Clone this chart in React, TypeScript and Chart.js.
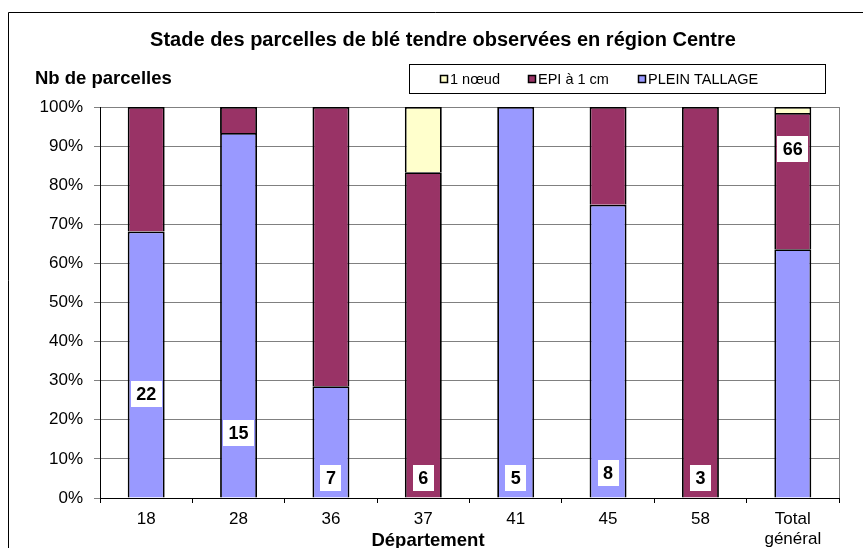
import React, { useEffect, useRef } from "react";
import { Chart, registerables } from "chart.js";

Chart.register(...registerables);

const departments: (string | string[])[] = ["18", "28", "36", "37", "41", "45", "58", ["Total", "général"]];
const pleinTallage = [15, 14, 2, 0, 5, 6, 0, 42];
const epi1cm = [7, 1, 5, 5, 0, 2, 3, 23];
const unNoeud = [0, 0, 0, 1, 0, 0, 0, 1];
const labelAt = [26.5, 16.6, 5, 5, 5, 6.5, 5, 89.3];
const yTicks = [0, 10, 20, 30, 40, 50, 60, 70, 80, 90, 100];

const FONT = '"Liberation Sans", Arial, sans-serif';
const C_PLEIN = "#9999FF";
const C_EPI = "#993366";
const C_NOEUD = "#FFFFCC";

const totals = departments.map((_, i) => pleinTallage[i] + epi1cm[i] + unNoeud[i]);
const share = (arr: number[]) => arr.map((v, i) => (v === 0 ? null : (v / totals[i]) * 100));

const decorPlugin = {
  id: "decor",
  beforeDraw(chart: any) {
    const ctx = chart.ctx;
    ctx.save();
    ctx.fillStyle = "#fff";
    ctx.fillRect(0, 0, chart.width, chart.height);
    ctx.strokeStyle = "#000";
    ctx.lineWidth = 1;
    ctx.beginPath();
    ctx.moveTo(8.5, chart.height);
    ctx.lineTo(8.5, 12.5);
    ctx.lineTo(chart.width, 12.5);
    ctx.stroke();
    ctx.restore();
  },
  afterDraw(chart: any) {
    const ctx = chart.ctx;
    const ca = chart.chartArea;
    ctx.save();
    // right plot border
    ctx.strokeStyle = "#808080";
    ctx.lineWidth = 1;
    ctx.beginPath();
    ctx.moveTo(Math.round(ca.right) + 0.5, ca.top);
    ctx.lineTo(Math.round(ca.right) + 0.5, ca.bottom);
    ctx.stroke();

    ctx.fillStyle = "#000";
    ctx.textBaseline = "middle";
    ctx.textAlign = "center";
    ctx.font = `bold 20px ${FONT}`;
    ctx.fillText("Stade des parcelles de blé tendre observées en région Centre", 443, 40);
    ctx.textAlign = "left";
    ctx.font = `bold 18.5px ${FONT}`;
    ctx.fillText("Nb de parcelles", 35, 79);
    ctx.textAlign = "center";
    ctx.fillText("Département", 428, 541);

    // legend
    ctx.strokeStyle = "#000";
    ctx.strokeRect(409.5, 64.5, 416, 29);
    const items = [
      { t: "1 nœud", c: C_NOEUD, x: 440 },
      { t: "EPI à 1 cm", c: C_EPI, x: 528 },
      { t: "PLEIN TALLAGE", c: C_PLEIN, x: 638 },
    ];
    ctx.font = `14.5px ${FONT}`;
    ctx.textAlign = "left";
    items.forEach((it) => {
      ctx.fillStyle = it.c;
      ctx.fillRect(it.x + 0.5, 75.5, 7, 7);
      ctx.strokeStyle = "#000";
      ctx.lineWidth = 1.5;
      ctx.strokeRect(it.x + 0.5, 75.5, 7, 7);
      ctx.fillStyle = "#000";
      ctx.fillText(it.t, it.x + 10, 79.5);
    });

    // data labels
    const xs = chart.scales.x;
    const ys = chart.scales.y;
    ctx.font = `bold 18px ${FONT}`;
    ctx.textAlign = "center";
    totals.forEach((v, i) => {
      const x = xs.getPixelForValue(i);
      const y = ys.getPixelForValue(labelAt[i]);
      const s = String(v);
      const w = ctx.measureText(s).width + 11;
      const h = 26;
      ctx.fillStyle = "#fff";
      ctx.fillRect(Math.round(x - w / 2), Math.round(y - h / 2), Math.round(w), h);
      ctx.fillStyle = "#000";
      ctx.fillText(s, x, y + 1);
    });
    ctx.restore();
  },
};

export default function App() {
  const ref = useRef<HTMLCanvasElement | null>(null);
  useEffect(() => {
    if (!ref.current) return;
    const chart = new Chart(ref.current, {
      type: "bar",
      data: {
        labels: departments as any,
        datasets: [
          { label: "PLEIN TALLAGE", data: share(pleinTallage), backgroundColor: C_PLEIN },
          { label: "EPI à 1 cm", data: share(epi1cm), backgroundColor: C_EPI },
          { label: "1 nœud", data: share(unNoeud), backgroundColor: C_NOEUD },
        ].map((d) => ({
          ...d,
          borderColor: "#000",
          borderWidth: 1.8,
          barPercentage: 0.4,
          categoryPercentage: 1,
        })) as any,
      },
      options: {
        animation: false,
        responsive: false,
        maintainAspectRatio: false,
        layout: { padding: { top: 107, right: 24, left: 0, bottom: 0 } },
        plugins: { legend: { display: false }, title: { display: false }, tooltip: { enabled: false } },
        scales: {
          x: {
            stacked: true,
            afterFit: (s: any) => {
              s.height = 50;
            },
            grid: { drawOnChartArea: false, drawTicks: true, tickLength: 5, color: "#000" },
            border: { display: true, color: "#000", width: 1 },
            ticks: { color: "#000", font: { family: FONT, size: 17 }, padding: 6, maxRotation: 0, autoSkip: false },
          },
          y: {
            stacked: true,
            min: 0,
            max: 100,
            afterFit: (s: any) => {
              s.width = 100;
            },
            afterBuildTicks: (s: any) => {
              s.ticks = yTicks.map((v) => ({ value: v }));
            },
            grid: { color: "#808080", tickLength: 6, lineWidth: 1 },
            border: { display: true, color: "#000", width: 1 },
            ticks: {
              color: "#000",
              font: { family: FONT, size: 17 },
              padding: 11,
              callback: (v: any) => `${v}%`,
            },
          },
        },
      },
      plugins: [decorPlugin],
    });
    return () => chart.destroy();
  }, []);
  return (
    <div style={{ position: "absolute", left: 0, top: 0, width: 863, height: 548 }}>
      <canvas ref={ref} width={863} height={548} style={{ display: "block", width: 863, height: 548 }} />
    </div>
  );
}
